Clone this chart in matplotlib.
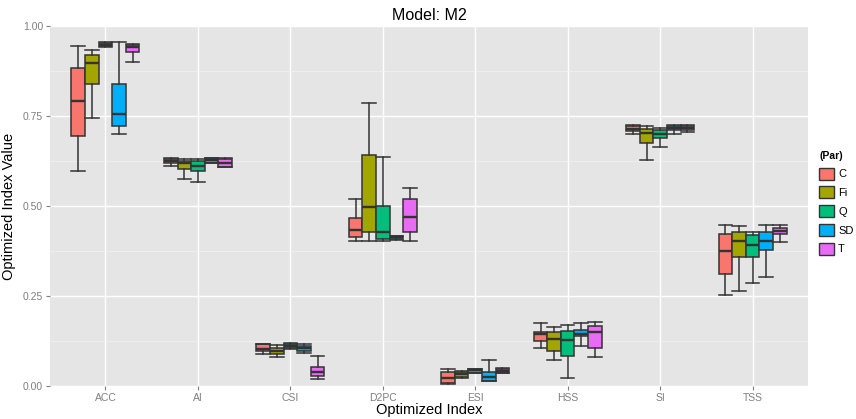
import matplotlib.pyplot as plt
from matplotlib.patches import Patch
import numpy as np

plt.rcParams['font.family'] = ['Liberation Sans', 'DejaVu Sans']

# Optimized index categories and parameter groups
indices = ["ACC", "AI", "CSI", "D2PC", "ESI", "HSS", "SI", "TSS"]
params = ["C", "Fi", "Q", "SD", "T"]
colors = ["#F8766D", "#A3A500", "#00BF7D", "#00B0F6", "#E76BF3"]

# box stats per parameter, one tuple per index: (low whisker, q1, median, q3, high whisker)
stats_C = [(0.598, 0.693, 0.791, 0.882, 0.943),
           (0.611, 0.620, 0.625, 0.631, 0.633),
           (0.088, 0.098, 0.103, 0.117, 0.118),
           (0.402, 0.414, 0.432, 0.468, 0.520),
           (0.006, 0.008, 0.023, 0.038, 0.048),
           (0.106, 0.126, 0.144, 0.151, 0.176),
           (0.701, 0.709, 0.715, 0.722, 0.725),
           (0.254, 0.312, 0.374, 0.423, 0.446)]
stats_Fi = [(0.744, 0.838, 0.896, 0.920, 0.933),
            (0.575, 0.602, 0.618, 0.626, 0.631),
            (0.080, 0.089, 0.098, 0.105, 0.115),
            (0.402, 0.428, 0.496, 0.641, 0.785),
            (0.022, 0.025, 0.032, 0.040, 0.042),
            (0.072, 0.096, 0.130, 0.149, 0.163),
            (0.627, 0.676, 0.704, 0.715, 0.722),
            (0.263, 0.359, 0.404, 0.427, 0.445)]
stats_Q = [(0.942, 0.944, 0.948, 0.952, 0.955),
           (0.568, 0.598, 0.612, 0.625, 0.630),
           (0.104, 0.105, 0.112, 0.118, 0.120),
           (0.402, 0.409, 0.427, 0.500, 0.636),
           (0.035, 0.036, 0.044, 0.048, 0.048),
           (0.023, 0.082, 0.128, 0.153, 0.170),
           (0.664, 0.690, 0.701, 0.712, 0.716),
           (0.286, 0.359, 0.393, 0.419, 0.428)]
stats_SD = [(0.699, 0.722, 0.756, 0.838, 0.955),
            (0.620, 0.620, 0.628, 0.632, 0.634),
            (0.093, 0.098, 0.105, 0.112, 0.118),
            (0.406, 0.409, 0.413, 0.416, 0.418),
            (0.015, 0.015, 0.025, 0.038, 0.072),
            (0.112, 0.138, 0.144, 0.156, 0.176),
            (0.700, 0.710, 0.716, 0.723, 0.725),
            (0.302, 0.378, 0.404, 0.428, 0.446)]
stats_T = [(0.900, 0.927, 0.941, 0.948, 0.950),
           (0.609, 0.609, 0.620, 0.631, 0.633),
           (0.020, 0.029, 0.040, 0.052, 0.082),
           (0.402, 0.428, 0.469, 0.519, 0.549),
           (0.035, 0.036, 0.043, 0.048, 0.050),
           (0.081, 0.106, 0.149, 0.167, 0.178),
           (0.706, 0.710, 0.716, 0.723, 0.725),
           (0.400, 0.422, 0.431, 0.439, 0.446)]
all_stats = [stats_C, stats_Fi, stats_Q, stats_SD, stats_T]

BOX_W = 0.147
EDGE = "#333333"

fig = plt.figure(figsize=(8.56, 4.19), dpi=100)
ax = fig.add_axes([0.0584, 0.0788, 0.8856, 0.8592])
ax.set_facecolor("#E5E5E5")

x = np.arange(len(indices))
for j, (par, col, stats) in enumerate(zip(params, colors, all_stats)):
    offset = (j - 2) * BOX_W
    bxp_stats = [dict(whislo=s[0], q1=s[1], med=s[2], q3=s[3], whishi=s[4], fliers=[])
                 for s in stats]
    ax.bxp(bxp_stats, positions=x + offset, widths=BOX_W, capwidths=BOX_W,
           patch_artist=True, showfliers=False, manage_ticks=False,
           boxprops=dict(facecolor=col, edgecolor=EDGE, linewidth=1.1),
           medianprops=dict(color=EDGE, linewidth=1.7),
           whiskerprops=dict(color=EDGE, linewidth=1.1),
           capprops=dict(color=EDGE, linewidth=1.1))

ax.set_xlim(-0.6, len(indices) - 0.4)
ax.set_ylim(0, 1.0)
ax.set_xticks(x)
ax.set_xticklabels(indices)
ax.set_yticks([0, 0.25, 0.5, 0.75, 1.0])
ax.set_yticklabels(["0.00", "0.25", "0.50", "0.75", "1.00"])
ax.set_yticks([0.125, 0.375, 0.625, 0.875], minor=True)
ax.grid(True, which="major", color="white", linewidth=1.0)
ax.grid(True, which="minor", axis="y", color="#F2F2F2", linewidth=0.5)
ax.set_axisbelow(True)
for sp in ax.spines.values():
    sp.set_visible(False)
ax.tick_params(which="major", colors="#7F7F7F", labelsize=7.5, length=3, width=0.8, pad=2)
ax.tick_params(which="minor", length=0)

ax.set_title("Model: M2", fontsize=11.5, pad=4)
ax.set_xlabel("Optimized Index", fontsize=10.5, labelpad=0)
ax.set_ylabel("Optimized Index Value", fontsize=10.5, labelpad=5)

handles = [Patch(facecolor=c, edgecolor=EDGE, linewidth=1.0) for c in colors]
leg = fig.legend(handles, params, title="(Par)", loc="upper left",
                 bbox_to_anchor=(0.957, 0.64), frameon=False, fontsize=8,
                 title_fontproperties={"weight": "bold", "size": 7.5},
                 handlelength=1.3, handleheight=1.3, handletextpad=0.4,
                 labelspacing=0.6, borderaxespad=0, borderpad=0)
leg._legend_box.align = "left"

fig.savefig("out.png", dpi=100)
